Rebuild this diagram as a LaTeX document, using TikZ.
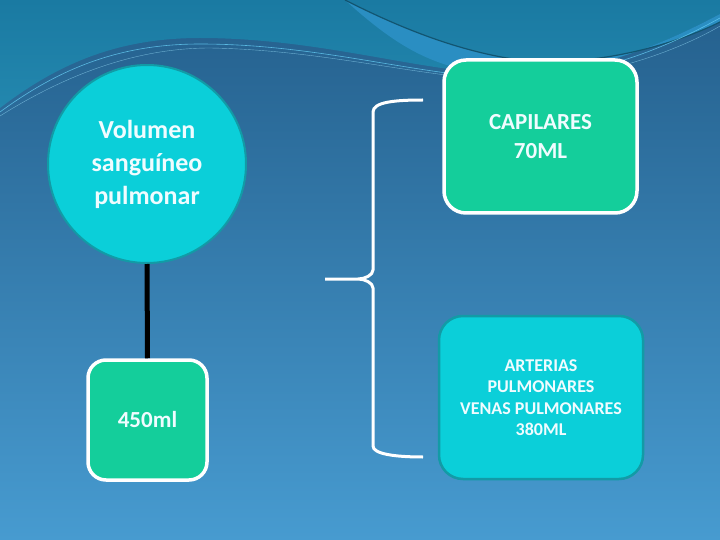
\documentclass[tikz,border=0pt]{standalone}
\usepackage{fontspec}
\setmainfont{Carlito}
\definecolor{bgtop}{HTML}{245F8C}
\definecolor{bgbot}{HTML}{479BD0}
\definecolor{wavelt}{HTML}{2387AE}
\definecolor{wavetop}{HTML}{1A7AA2}
\definecolor{bandc}{HTML}{2A8EC2}
\definecolor{cyanfill}{HTML}{0BCFD9}
\definecolor{cyanedge}{HTML}{129BA6}
\definecolor{greenfill}{HTML}{14CE9B}
\definecolor{txt}{HTML}{F0FCFF}
\begin{document}
\begin{tikzpicture}[x=1pt,y=-1pt,
  circ/.style={circle,fill=cyanfill,draw=cyanedge,line width=2pt,minimum size=198pt,inner sep=0pt,align=center,text=txt,font=\bfseries\fontsize{26}{33}\selectfont},
  greenbox/.style={rounded corners=18pt,fill=greenfill,draw=white,line width=3.5pt,align=center,text=txt,inner sep=0pt},
  cyanbox/.style={rounded corners=24pt,fill=cyanfill,draw=cyanedge,line width=2.5pt,align=center,text=txt,inner sep=0pt}]
\useasboundingbox (0,0) rectangle (720,540);
\shade[top color=bgtop,bottom color=bgbot] (0,0) rectangle (720,540);
% top wave
\shade[top color=wavetop,bottom color=wavelt] (0,0) -- (0,108) .. controls (60,62) and (120,38) .. (200,38) .. controls (320,38) and (420,72) .. (505,74) .. controls (600,76) and (680,35) .. (720,14) -- (720,0) -- cycle;
\fill[bandc] (345,0) .. controls (400,28) and (460,52) .. (520,60) .. controls (600,68) and (680,42) .. (720,22) -- (720,14) .. controls (680,35) and (600,76) .. (505,74) .. controls (440,72) and (400,50) .. (345,0) -- cycle;
\draw[wavetop!70!black,line width=1.2pt] (345,0) .. controls (400,28) and (460,52) .. (520,60) .. controls (600,68) and (680,42) .. (720,22);
\draw[cyan!60!white,line width=0.6pt,opacity=0.8] (0,112) .. controls (60,68) and (120,44) .. (200,44) .. controls (320,44) and (420,76) .. (505,78) .. controls (600,80) and (680,40) .. (720,18);
\draw[cyan!40!white,line width=0.4pt,opacity=0.6] (0,116) .. controls (70,72) and (140,48) .. (210,48) .. controls (330,50) and (430,80) .. (515,80) .. controls (610,80) and (690,44) .. (720,26);
% nodes
\node[circ] (vol) at (147,164) {Volumen\\sanguíneo\\pulmonar};
\node[greenbox,minimum width=119pt,minimum height=120pt,font=\bfseries\fontsize{23}{27}\selectfont] (ml) at (147.5,420) {450ml};
\node[greenbox,rounded corners=22pt,minimum width=193pt,minimum height=153pt,font=\bfseries\fontsize{23}{29}\selectfont] (cap) at (540.5,136.5) {CAPILARES\\70ML};
\node[cyanbox,minimum width=204pt,minimum height=163pt,font=\bfseries\fontsize{18}{21.5}\selectfont] (art) at (541,397.5) {ARTERIAS\\PULMONARES\\VENAS PULMONARES\\380ML};
\draw[black,line width=5pt] (vol.south) -- (ml.north);
% brace
\coordinate (bt) at (423,100);
\coordinate (bb) at (423,457);
\coordinate (bm) at (325,279);
\draw[white,line width=3pt,line join=round]
  (bt) .. controls (395,100) and (373,102) .. (373,112)
  -- (373,270) .. controls (373,275) and (365,279) .. (358,279) -- (bm)
  (358,279) .. controls (365,279) and (373,283) .. (373,288)
  -- (373,446) .. controls (373,454) and (395,457) .. (bb);
\end{tikzpicture}
\end{document}
